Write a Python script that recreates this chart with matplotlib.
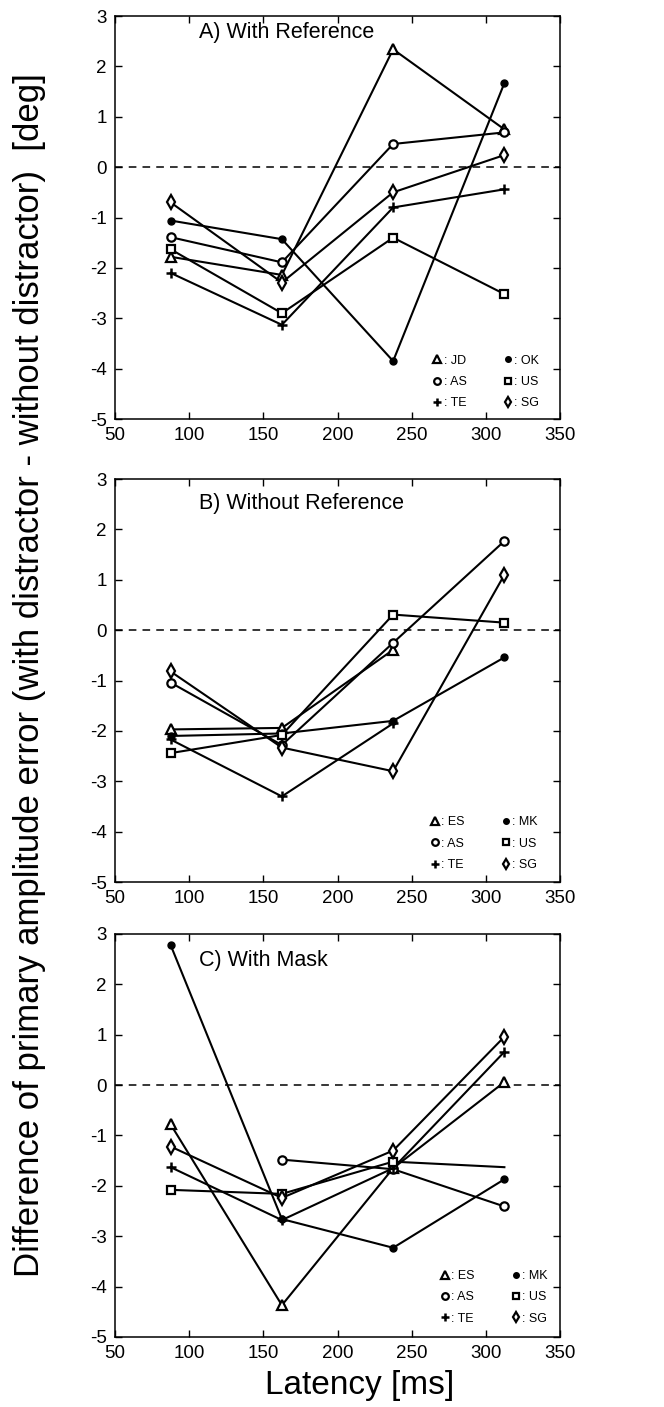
import numpy as np
import matplotlib
matplotlib.use("Agg")
import matplotlib.pyplot as plt
from matplotlib.lines import Line2D

plt.rcParams['font.family'] = ['Liberation Sans', 'DejaVu Sans']
plt.rcParams['axes.unicode_minus'] = False

nan = np.nan
latency = [87.5, 162.5, 237.5, 312.5]

# A) With Reference
a_jd = [-1.78, -2.14, 2.34, 0.75]
a_as = [-1.39, -1.89, 0.46, 0.69]
a_te = [-2.10, -3.13, -0.80, -0.44]
a_ok = [-1.06, -1.43, -3.85, 1.67]
a_us = [-1.63, -2.90, -1.40, -2.52]
a_sg = [-0.70, -2.29, -0.50, 0.24]

# B) Without Reference
b_es = [-1.97, -1.94, -0.39, nan]
b_as = [-1.04, -2.28, -0.25, 1.77]
b_te = [-2.17, -3.30, -1.85, nan]
b_mk = [-2.10, -2.05, -1.80, -0.54]
b_us = [-2.44, -2.08, 0.31, 0.15]
b_sg = [-0.82, -2.33, -2.80, 1.10]

# C) With Mask
c_es = [-0.78, -4.37, -1.65, 0.06]
c_as = [nan, -1.48, -1.67, -2.41]
c_te = [-1.63, -2.68, -1.65, 0.66]
c_mk = [2.78, -2.66, -3.23, -1.87]
c_us = [-2.08, -2.16, -1.52, -1.63]
c_sg = [-1.22, -2.24, -1.30, 0.96]

styles = {
    'tri': dict(marker='^', mfc='white', ms=6.5, mew=1.6),
    'circ': dict(marker='o', mfc='white', ms=6, mew=1.6),
    'plus': dict(marker='+', ms=7.5, mew=1.8),
    'dot': dict(marker='o', mfc='black', ms=5, mew=1),
    'sq': dict(marker='s', mfc='white', ms=5.5, mew=1.6),
    'dia': dict(marker='d', mfc='white', ms=7, mew=1.6),
}

# title, title y, series, axes bottom, legend centre
panels = [
    ("A) With Reference", 0.958,
     [("JD", 'tri', a_jd), ("AS", 'circ', a_as), ("TE", 'plus', a_te),
      ("OK", 'dot', a_ok), ("US", 'sq', a_us), ("SG", 'dia', a_sg)],
     0.7022, (0.834, 0.092)),
    ("B) Without Reference", 0.94,
     [("ES", 'tri', b_es), ("AS", 'circ', b_as), ("TE", 'plus', b_te),
      ("MK", 'dot', b_mk), ("US", 'sq', b_us), ("SG", 'dia', b_sg)],
     0.3731, (0.83, 0.095)),
    ("C) With Mask", 0.933,
     [("ES", 'tri', c_es), ("AS", 'circ', c_as), ("TE", 'plus', c_te),
      ("MK", 'dot', c_mk), ("US", 'sq', c_us), ("SG", 'dia', c_sg)],
     0.0498, (0.852, 0.098)),
]

fig = plt.figure(figsize=(6.64, 14.07), dpi=100)

for title, ty, series, bottom, legxy in panels:
    ax = fig.add_axes([0.1732, bottom, 0.6702, 0.2864])
    ax.axhline(0, color='black', lw=1.1, ls=(0, (5, 4)), zorder=1)
    handles = []
    for name, st, vals in series:
        y = np.array(vals, dtype=float)
        x = np.array(latency)
        mask = ~np.isnan(y)
        kw = dict(styles[st])
        if title.startswith("C") and name == "US":
            kw['markevery'] = [0, 1, 2]
        ax.plot(x[mask], y[mask], color='black', lw=1.5, mec='black',
                zorder=2, **kw)
        lk = dict(styles[st])
        lk['ms'] = lk['ms'] * 0.8
        handles.append(Line2D([], [], ls='none', color='black', mec='black', **lk))
    ax.legend(handles, [": " + s[0] for s in series], ncol=2,
              loc='center', bbox_to_anchor=legxy,
              frameon=False, fontsize=9, handlelength=0.6,
              handletextpad=0.2, columnspacing=3.0, labelspacing=0.75,
              borderpad=0, borderaxespad=0)
    ax.text(0.189, ty, title, transform=ax.transAxes, fontsize=15.5,
            va='center', ha='left')
    ax.set_xlim(50, 350)
    ax.set_ylim(-5, 3)
    ax.set_xticks(np.arange(50, 351, 50))
    ax.set_yticks(np.arange(-5, 4, 1))
    ax.tick_params(direction='in', top=True, right=True, length=5,
                   width=1, labelsize=13.5, pad=6)
    for sp in ax.spines.values():
        sp.set_linewidth(1.1)
    if title.startswith("C"):
        ax.set_xlabel("Latency [ms]", fontsize=24, va='center')
        ax.xaxis.set_label_coords(0.55, -0.12)

fig.text(0.045, 1 - 675 / 1407,
         "Difference of primary amplitude error (with distractor - without distractor)  [deg]",
         rotation=90, va='center', ha='center', fontsize=25)

fig.savefig("out.png", dpi=100)
